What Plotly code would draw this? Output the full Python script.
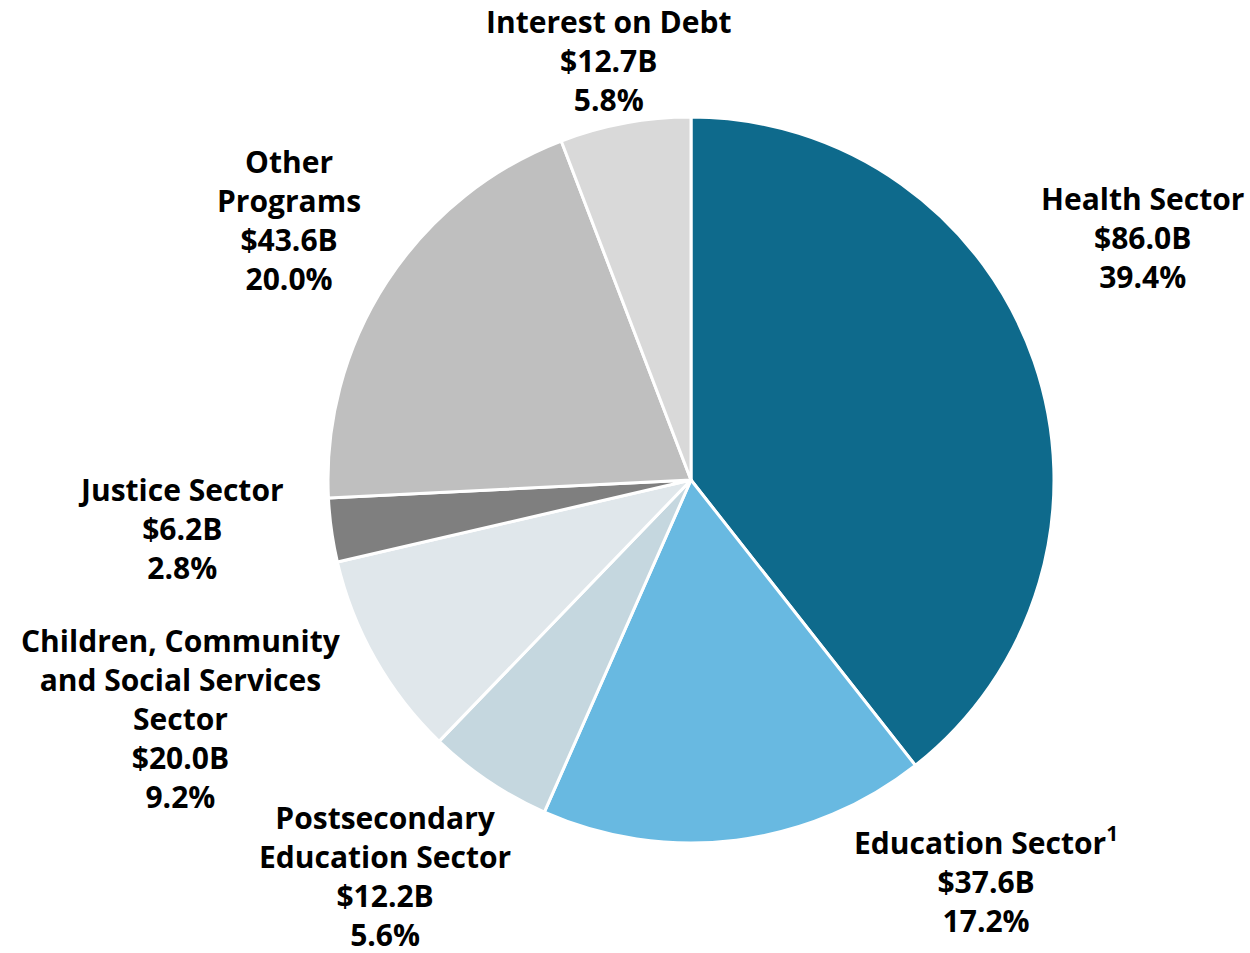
import plotly.graph_objects as go

categories = ["Health Sector", "Education Sector", "Postsecondary Education Sector",
              "Children, Community and Social Services Sector", "Justice Sector",
              "Other Programs", "Interest on Debt"]
values = [86.0, 37.6, 12.2, 20.0, 6.2, 43.6, 12.7]
percents = ["39.4%", "17.2%", "5.6%", "9.2%", "2.8%", "20.0%", "5.8%"]
label_text = ["Health Sector", "Education Sector<sup>1</sup>", "Postsecondary<br>Education Sector",
              "Children, Community<br>and Social Services<br>Sector", "Justice Sector",
              "Other<br>Programs", "Interest on Debt"]
colors = ["#0e6a8c", "#68b9e1", "#c5d7df", "#e0e7eb", "#7f7f7f", "#bfbfbf", "#d9d9d9"]

W, H = 1250, 953
# label centres in pixels
label_pos = [(1142, 237), (986, 880), (385, 876), (181, 718), (181, 528), (289, 220), (609, 61)]

fig = go.Figure(go.Pie(
    labels=categories, values=values, sort=False, direction="clockwise", rotation=0,
    marker=dict(colors=colors, line=dict(color="white", width=3)),
    textinfo="none", hoverinfo="label+value+percent", showlegend=False,
    domain=dict(x=[328 / W, 1054 / W], y=[1 - 843 / H, 1 - 117 / H]),
))

for lab, v, p, (px, py) in zip(label_text, values, percents, label_pos):
    fig.add_annotation(
        x=px / W, y=1 - py / H, xref="paper", yref="paper",
        text=f"{lab}<br>${v:.1f}B<br>{p}", showarrow=False,
        xanchor="center", yanchor="middle", align="center", borderpad=0,
        font=dict(family="Open Sans", size=30, color="black", weight="bold"),
    )

fig.update_layout(
    width=W, height=H, margin=dict(l=0, r=0, t=0, b=0),
    paper_bgcolor="white", plot_bgcolor="white",
)
fig.write_html("out.html", config={"displayModeBar": False},
               post_script="document.body.style.margin='0';document.body.style.overflow='hidden';")
